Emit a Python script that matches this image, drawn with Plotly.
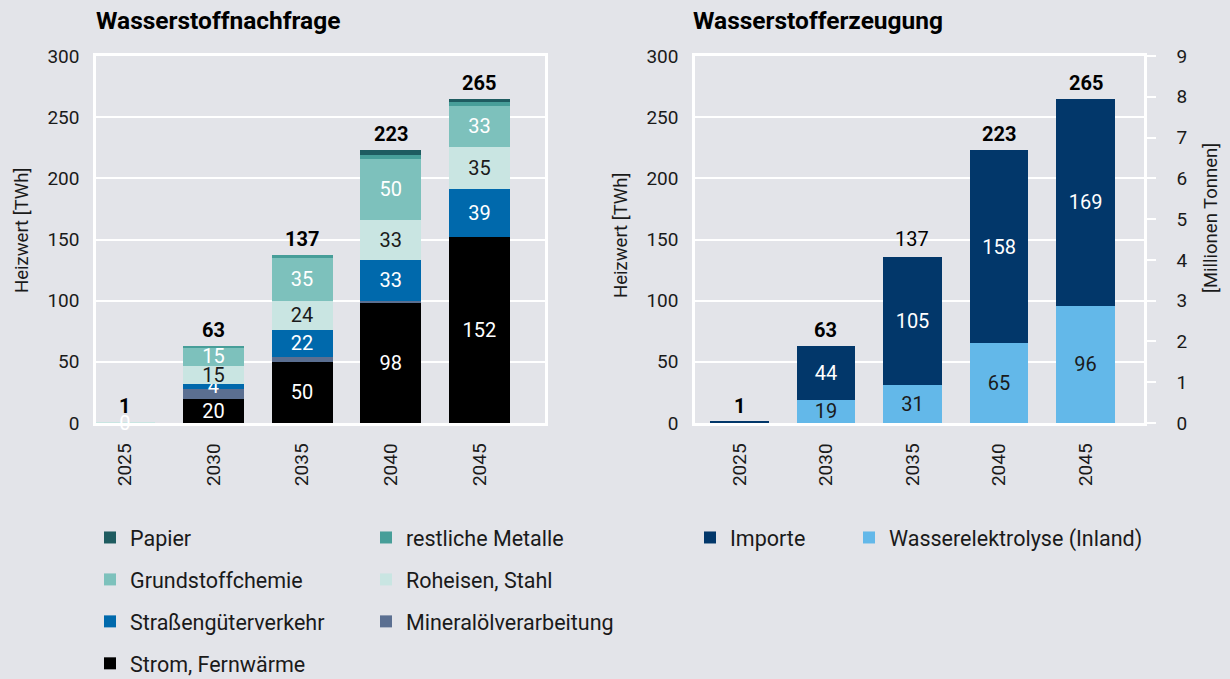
import plotly.graph_objects as go

# ---------------- data ----------------
years = ["2025", "2030", "2035", "2040", "2045"]

# Wasserstoffnachfrage (Heizwert, TWh)
strom_fernwaerme = [0, 20, 50, 98, 152]
mineraloel = [0, 8, 4, 2, 0]
strassengueter = [0, 4, 22, 33, 39]
roheisen_stahl = [0.4, 15, 24, 33, 35]
grundstoffchemie = [0, 15, 35, 50, 33]
restliche_metalle = [0, 1, 2, 3, 3]
papier = [0, 0, 0, 4, 3]
nachfrage_total = [1, 63, 137, 223, 265]

# Wasserstofferzeugung (Heizwert, TWh)
wasserelektrolyse = [0, 19, 31, 65, 96]
importe = [1, 44, 105, 158, 169]
erzeugung_total = [1, 63, 137, 223, 265]
erzeugung_total_bold = [True, True, False, True, True]

y_ticks = [0, 50, 100, 150, 200, 250, 300]
mt_ticks = [0, 1, 2, 3, 4, 5, 6, 7, 8, 9]

# ---------------- style ----------------
FONT = "Roboto"
BG = "#e3e4e9"
DARK = "#1a1a1a"
W = 1230
H = 679

def px_x(p):
    return p / W

def px_y(p):
    return 1 - p / H

def lbl(values, show=True):
    return [("%.0f" % v if v > 0 else "") if show else "" for v in values]

fig = go.Figure()

# (name, values, colour, labelled, text colours, legend, legend rank)
left_series = [
    ("Strom, Fernwärme", strom_fernwaerme, "#000000", True, ["white"] * 5, "legend", 4),
    ("Mineralölverarbeitung", mineraloel, "#5b6f91", False, ["white"] * 5, "legend2", 3),
    ("Straßengüterverkehr", strassengueter, "#0069ac", True, ["white"] * 5, "legend", 3),
    ("Roheisen, Stahl", roheisen_stahl, "#c9e5e2", True, ["white", DARK, DARK, DARK, DARK], "legend2", 2),
    ("Grundstoffchemie", grundstoffchemie, "#7dc1bc", True, ["white"] * 5, "legend", 2),
    ("restliche Metalle", restliche_metalle, "#479e99", False, ["white"] * 5, "legend2", 1),
    ("Papier", papier, "#1e5b60", False, ["white"] * 5, "legend", 1),
]

for name, vals, col, show, tcol, leg, rank in left_series:
    fig.add_trace(go.Bar(
        x=years, y=vals, name=name, marker=dict(color=col, line=dict(width=0)),
        width=0.69, xaxis="x", yaxis="y",
        text=lbl(vals, show), textposition="inside", insidetextanchor="middle", textangle=0,
        textfont=dict(family=FONT, size=20, color=tcol), cliponaxis=False,
        legend=leg, legendgroup=name, legendrank=rank, hoverinfo="skip",
    ))

right_series = [
    ("Wasserelektrolyse (Inland)", wasserelektrolyse, "#63b8e9", DARK, "legend4"),
    ("Importe", importe, "#02376a", "white", "legend3"),
]
for name, vals, col, tcol, leg in right_series:
    fig.add_trace(go.Bar(
        x=years, y=vals, name=name, marker=dict(color=col, line=dict(width=0)),
        width=0.68, xaxis="x2", yaxis="y2",
        text=[("%.0f" % v if v > 5 else "") for v in vals],
        textposition="inside", insidetextanchor="middle", textangle=0,
        textfont=dict(family=FONT, size=20, color=tcol), cliponaxis=False,
        legend=leg, legendgroup=name, hoverinfo="skip",
    ))

# invisible trace to activate secondary (Mt) axis
fig.add_trace(go.Scatter(x=years, y=[None] * 5, xaxis="x2", yaxis="y3",
                         showlegend=False, hoverinfo="skip", mode="markers"))

annotations = []
for i, t in enumerate(nachfrage_total):
    annotations.append(dict(x=i, y=t, xref="x", yref="y", text="<b>%d</b>" % t,
                            showarrow=False, yanchor="bottom", yshift=2,
                            font=dict(family=FONT, size=20, color="#000000")))
for i, (t, b) in enumerate(zip(erzeugung_total, erzeugung_total_bold)):
    annotations.append(dict(x=i, y=t, xref="x2", yref="y2",
                            text=("<b>%d</b>" % t) if b else "%d" % t,
                            showarrow=False, yanchor="bottom", yshift=2,
                            font=dict(family=FONT, size=20, color="#000000")))

# titles
annotations.append(dict(x=px_x(94), y=px_y(20), xref="paper", yref="paper", xanchor="left",
                        yanchor="middle", text="<b>Wasserstoffnachfrage</b>", showarrow=False,
                        font=dict(family=FONT, size=24.5, color="#000000")))
annotations.append(dict(x=px_x(691), y=px_y(20), xref="paper", yref="paper", xanchor="left",
                        yanchor="middle", text="<b>Wasserstofferzeugung</b>", showarrow=False,
                        font=dict(family=FONT, size=24.5, color="#000000")))
# axis titles
for xx, yy, txt in [(22, 231, "Heizwert [TWh]"), (621, 236, "Heizwert [TWh]"),
                    (1211, 218, "[Millionen Tonnen]")]:
    annotations.append(dict(x=px_x(xx), y=px_y(yy), xref="paper", yref="paper",
                            xanchor="center", yanchor="middle", textangle=-90, text=txt,
                            showarrow=False, font=dict(family=FONT, size=18.5, color=DARK)))

ydom = [px_y(423), px_y(56)]
common_y = dict(range=[0, 300], tickvals=y_ticks, showgrid=True, gridcolor="white", gridwidth=2,
                showline=True, linecolor="white", linewidth=2.5, mirror=True, ticks="",
                ticklabelstandoff=10, zeroline=False, layer="below traces", automargin=False,
                tickfont=dict(family=FONT, size=19, color=DARK), fixedrange=True)
common_x = dict(type="category", showgrid=False, showline=True, linecolor="white", linewidth=2.5,
                mirror=True, ticks="", tickangle=-90, ticklabelstandoff=10, layer="below traces",
                automargin=False, tickfont=dict(family=FONT, size=19, color=DARK), fixedrange=True)

legend_common = dict(xanchor="left", yanchor="top", traceorder="grouped", tracegroupgap=11,
                     font=dict(family=FONT, size=21.5, color=DARK), bgcolor="rgba(0,0,0,0)",
                     borderwidth=0, itemclick=False, itemdoubleclick=False)

fig.update_layout(
    width=W, height=H,
    margin=dict(l=0, r=0, t=0, b=0, autoexpand=False),
    paper_bgcolor=BG, plot_bgcolor=BG,
    barmode="stack",
    font=dict(family=FONT, color=DARK),
    uniformtext=dict(minsize=20, mode="show"),
    xaxis=dict(domain=[px_x(96), px_x(545)], range=[-0.325, 4.74], anchor="y", **common_x),
    yaxis=dict(domain=ydom, anchor="x", **common_y),
    xaxis2=dict(domain=[px_x(695), px_x(1144)], range=[-0.514, 4.676], anchor="y2", **common_x),
    yaxis2=dict(domain=ydom, anchor="x2", **common_y),
    yaxis3=dict(overlaying="y2", side="right", anchor="x2", range=[0, 9], tickvals=mt_ticks,
                showgrid=False, showline=True, linecolor="white", linewidth=2.5, ticks="outside",
                ticklen=9, tickwidth=2, tickcolor="white", ticklabelstandoff=17, zeroline=False,
                automargin=False, tickfont=dict(family=FONT, size=19, color=DARK), fixedrange=True),
    legend=dict(x=px_x(90), y=px_y(517), **legend_common),
    legend2=dict(x=px_x(366), y=px_y(517), **legend_common),
    legend3=dict(x=px_x(690), y=px_y(517), **legend_common),
    legend4=dict(x=px_x(849), y=px_y(517), **legend_common),
    annotations=annotations,
    showlegend=True,
)

fig.write_html("out.html", config={"displayModeBar": False},
               post_script="document.body.style.margin='0';document.body.style.overflow='hidden';")
